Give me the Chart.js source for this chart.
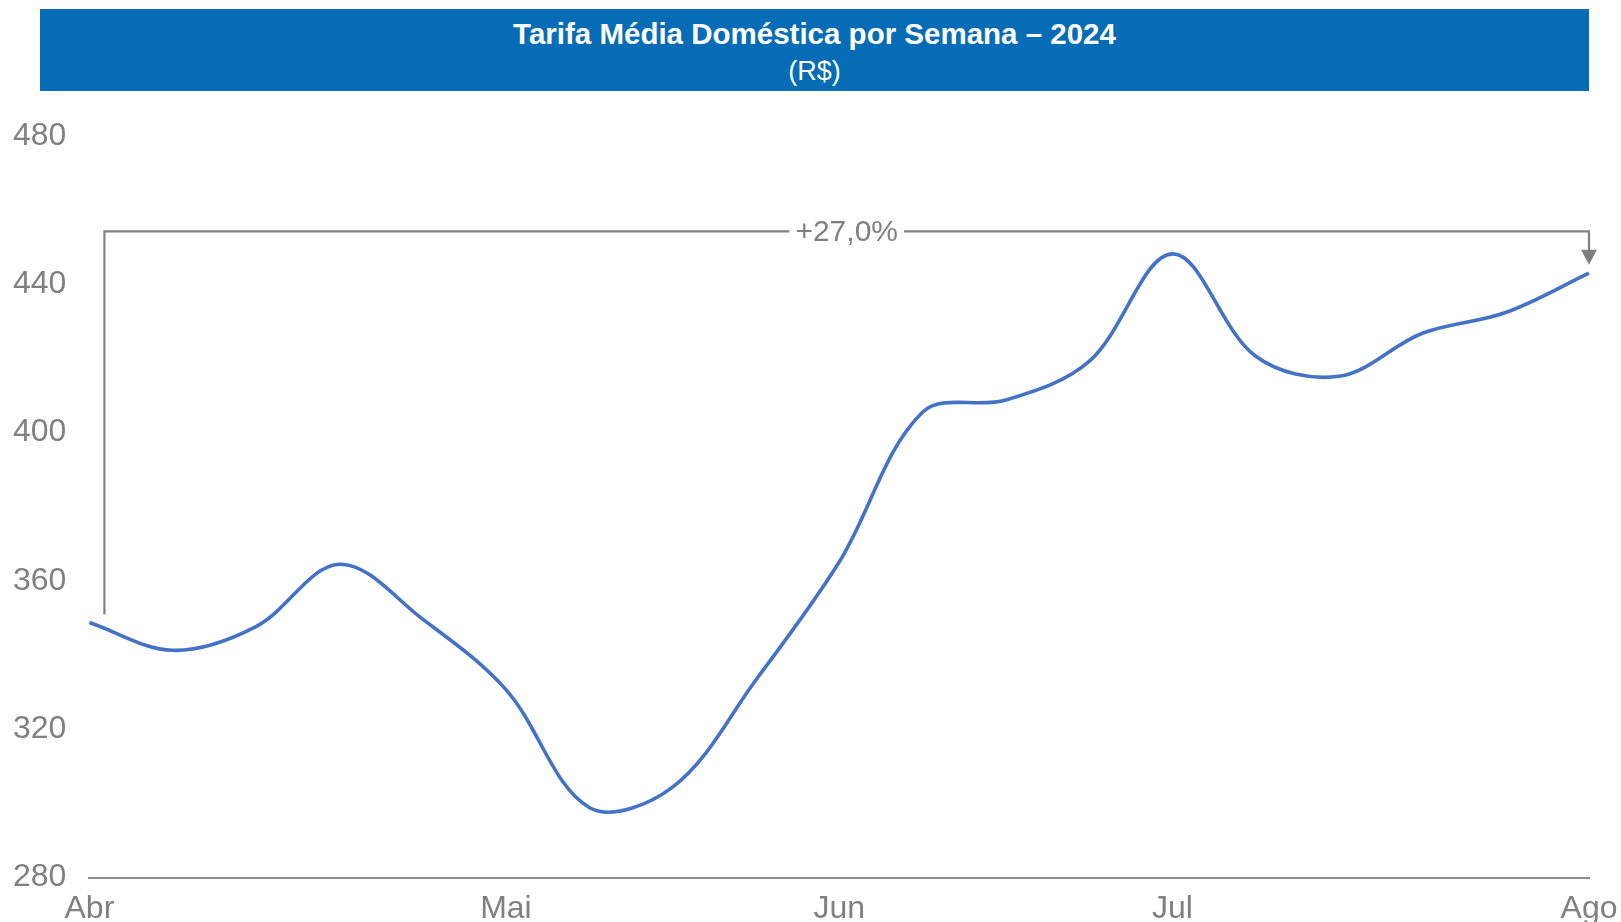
<!DOCTYPE html>
<html lang="pt-BR">
<head>
<meta charset="utf-8">
<title>Tarifa Média Doméstica por Semana – 2024</title>
<script src="https://cdn.jsdelivr.net/npm/chart.js@4.4.1/dist/chart.umd.min.js"></script>
<style>
  html, body { margin: 0; padding: 0; background: #fff; overflow: hidden; }
  body { width: 1621px; height: 922px; position: relative; font-family: "Liberation Sans", Arial, sans-serif; }
  #banner {
    position: absolute; left: 40px; top: 9px; width: 1549px; height: 82px;
    background: #066cb5; color: #fff; text-align: center; z-index: 2;
  }
  #banner .t1 { position: absolute; left: 0; right: 0; top: 10px; font-size: 29.5px; line-height: 30px; font-weight: bold; }
  #banner .t2 { position: absolute; left: 0; right: 0; top: 49px; font-size: 27px; line-height: 27px; }
  #wrap { position: absolute; left: 0; top: 0; width: 1621px; height: 940px; }
</style>
</head>
<body>
<div id="banner">
  <div class="t1">Tarifa Média Doméstica por Semana – 2024</div>
  <div class="t2">(R$)</div>
</div>
<div id="wrap"><canvas id="tarifaChart"></canvas></div>
<script>
// --- Dados ---
const semanas = ["Abr", "", "", "", "", "Mai", "", "", "", "Jun", "", "", "", "Jul", "", "", "", "", "Ago"];
const tarifa = [348.8, 341.3, 347.7, 364.5, 349.7, 330.7, 298.9, 304.4, 333.3, 365.1,
                405.5, 408.8, 419.2, 448.2, 420.6, 415.2, 426.8, 432.4, 443.0];
const yTicks = [280, 320, 360, 400, 440, 480];
const nivelChave = 454.3; // altura da chave de variação (R$)

const cinza = "#808080";
const fonte = "'Liberation Sans', Arial, sans-serif";

// --- Chave com a variação entre a primeira e a última semana ---
const chavePlugin = {
  id: "chave",
  afterDatasetsDraw(chart) {
    const { ctx, scales: { x, y } } = chart;
    const n = tarifa.length - 1;
    const xIni = x.getPixelForValue(0) + 15;
    const xFim = x.getPixelForValue(n);
    const yNivel = y.getPixelForValue(nivelChave);
    const yIni = y.getPixelForValue(tarifa[0]) - 8;
    const yFim = y.getPixelForValue(tarifa[n]) - 8.5;

    const variacao = (tarifa[n] / tarifa[0] - 1) * 100;
    const texto = (variacao >= 0 ? "+" : "") + variacao.toFixed(1).replace(".", ",") + "%";

    ctx.save();
    ctx.font = "30px " + fonte;
    const larg = ctx.measureText(texto).width;
    const xMeio = (xIni + xFim) / 2;

    ctx.strokeStyle = cinza;
    ctx.lineWidth = 2.2;
    ctx.beginPath();
    ctx.moveTo(xIni, yIni);
    ctx.lineTo(xIni, yNivel);
    ctx.lineTo(xMeio - larg / 2 - 6, yNivel);
    ctx.moveTo(xMeio + larg / 2 + 6, yNivel);
    ctx.lineTo(xFim, yNivel);
    ctx.lineTo(xFim, yFim - 14);
    ctx.stroke();

    // ponta da seta
    ctx.fillStyle = cinza;
    ctx.beginPath();
    ctx.moveTo(xFim - 8, yFim - 15);
    ctx.lineTo(xFim + 8, yFim - 15);
    ctx.lineTo(xFim, yFim);
    ctx.closePath();
    ctx.fill();

    ctx.textAlign = "center";
    ctx.textBaseline = "middle";
    ctx.fillText(texto, xMeio, yNivel + 1);
    ctx.restore();
  }
};

new Chart(document.getElementById("tarifaChart"), {
  type: "line",
  data: {
    labels: semanas,
    datasets: [{
      label: "Tarifa média doméstica",
      data: tarifa,
      borderColor: "#4472c4",
      borderWidth: 3.6,
      pointRadius: 0,
      tension: 0.35,
      fill: false
    }]
  },
  options: {
    responsive: true,
    maintainAspectRatio: false,
    animation: false,
    layout: { padding: { left: -10, right: 0, top: 136, bottom: 0 } },
    plugins: {
      legend: { display: false },
      title: { display: false },
      tooltip: { enabled: false }
    },
    scales: {
      x: {
        offset: false,
        grid: { display: false, drawTicks: false },
        border: { display: true, color: "#8c8c8c", width: 2 },
        afterFit(axis) { axis.paddingRight = 32; },
        ticks: {
          autoSkip: false,
          maxRotation: 0,
          padding: 12,
          color: cinza,
          font: { family: fonte, size: 32 }
        }
      },
      y: {
        min: 280,
        max: 480,
        afterBuildTicks(axis) { axis.ticks = yTicks.map(v => ({ value: v })); },
        grid: { display: false, drawTicks: false },
        border: { display: false },
        ticks: {
          padding: 23,
          color: cinza,
          font: { family: fonte, size: 32 }
        }
      }
    }
  },
  plugins: [chavePlugin]
});
</script>
</body>
</html>
